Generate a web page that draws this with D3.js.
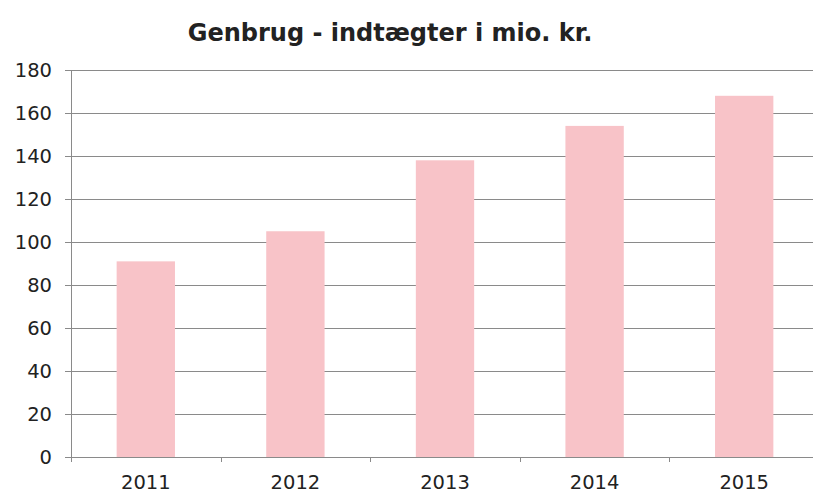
<!DOCTYPE html>
<html>
<head>
<meta charset="utf-8">
<script src="https://cdn.jsdelivr.net/npm/d3@7"></script>
<style>
  body { margin: 0; background: #fff; }
  text { font-family: "DejaVu Sans", Verdana, sans-serif; fill: #222; }
</style>
</head>
<body>
<div id="chart"></div>
<script>
// Data
const years = ['2011', '2012', '2013', '2014', '2015'];
const revenue = [91, 105, 138, 154, 168];
const yTicks = [0, 20, 40, 60, 80, 100, 120, 140, 160, 180];
const chartTitle = 'Genbrug - indtægter i mio. kr.';

const width = 813;
const height = 494;
const margin = { top: 70, right: -6, bottom: 37, left: 71 };

const svg = d3.select('#chart')
    .append('svg')
    .attr('width', width)
    .attr('height', height);

// Scales
const x = d3.scaleBand()
    .domain(years)
    .range([margin.left, width - margin.right])
    .paddingInner(0.61)
    .paddingOuter(0.305);

const y = d3.scaleLinear()
    .domain([0, 180])
    .range([height - margin.bottom, margin.top]);

// Gridlines
svg.append('g')
    .selectAll('line')
    .data(yTicks)
    .enter()
    .append('line')
    .attr('x1', margin.left - 6)
    .attr('x2', width)
    .attr('y1', d => Math.round(y(d)) + 0.5)
    .attr('y2', d => Math.round(y(d)) + 0.5)
    .attr('stroke', '#8a8a8a')
    .attr('stroke-width', 1);

// Bars
svg.append('g')
    .selectAll('rect')
    .data(years)
    .enter()
    .append('rect')
    .attr('x', d => x(d))
    .attr('width', x.bandwidth())
    .attr('y', (d, i) => y(revenue[i]))
    .attr('height', (d, i) => y(0) - y(revenue[i]))
    .attr('fill', '#f8c3c8');

// Y axis line
svg.append('line')
    .attr('x1', margin.left + 0.5)
    .attr('x2', margin.left + 0.5)
    .attr('y1', y(180))
    .attr('y2', y(0) + 5)
    .attr('stroke', '#8a8a8a');

// Baseline
svg.append('line')
    .attr('x1', margin.left)
    .attr('x2', width)
    .attr('y1', Math.round(y(0)) + 0.5)
    .attr('y2', Math.round(y(0)) + 0.5)
    .attr('stroke', '#8a8a8a');

// Category tick marks between bars
const step = x.step();
svg.append('g')
    .selectAll('line')
    .data(years.slice(1))
    .enter()
    .append('line')
    .attr('x1', (d, i) => Math.round(margin.left + (i + 1) * step) + 0.5)
    .attr('x2', (d, i) => Math.round(margin.left + (i + 1) * step) + 0.5)
    .attr('y1', y(0))
    .attr('y2', y(0) + 5)
    .attr('stroke', '#8a8a8a');

// Y tick labels
svg.append('g')
    .selectAll('text')
    .data(yTicks)
    .enter()
    .append('text')
    .attr('x', 52)
    .attr('y', d => y(d) + 7)
    .attr('text-anchor', 'end')
    .attr('font-size', 19.5)
    .text(d => d);

// X labels
svg.append('g')
    .selectAll('text')
    .data(years)
    .enter()
    .append('text')
    .attr('x', d => x(d) + x.bandwidth() / 2)
    .attr('y', 489)
    .attr('text-anchor', 'middle')
    .attr('font-size', 19.5)
    .text(d => d);

// Title
svg.append('text')
    .attr('x', 390)
    .attr('y', 41)
    .attr('text-anchor', 'middle')
    .attr('font-size', 24)
    .attr('font-weight', 'bold')
    .text(chartTitle);
</script>
</body>
</html>
